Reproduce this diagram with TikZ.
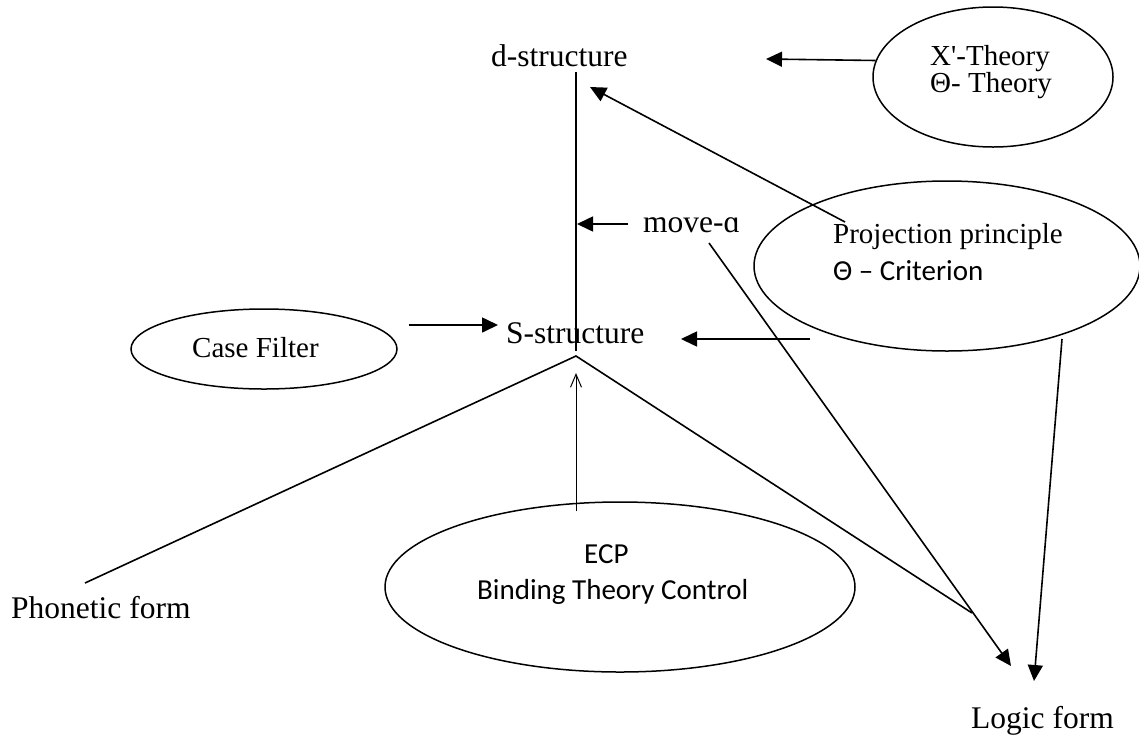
\documentclass[tikz,border=0pt]{standalone}
\usepackage{fontspec}
\setmainfont{Liberation Serif}
\newfontfamily\calib{Carlito}
\usetikzlibrary{shapes.geometric,arrows.meta}

\tikzset{
  label/.style={font=\fontsize{31.5}{34}\selectfont, inner sep=0pt, anchor=base west},
  inlabel/.style={font=\fontsize{29}{32}\selectfont, inner sep=0pt, anchor=base west},
  sanslabel/.style={font=\calib\fontsize{29}{32}\selectfont, inner sep=0pt, anchor=base west},
  oval/.style={draw, ellipse, line width=1.5pt, inner sep=0pt},
  link/.style={line width=1.6pt},
  arr/.style={line width=1.6pt, -{Triangle[length=16pt,width=15pt]}},
  thinarr/.style={line width=1pt, -{Straight Barb[length=13pt,width=11pt,line width=1pt]}}
}

\begin{document}
\begin{tikzpicture}[x=1pt,y=-1pt]
  \useasboundingbox (0,0) rectangle (1139,737);

  % levels of representation
  \node[label] (dstr) at (491,66) {d-structure};
  \node[label] (sstr) at (506,343) {S-structure};
  \node[label] (move) at (643,232) {move-ɑ};
  \node[label] (pf)   at (11,618)  {Phonetic form};
  \node[label] (lf)   at (971,728) {Logic form};

  % modules
  \node[oval, minimum width=240pt, minimum height=140pt] (xbar) at (993,77) {};
  \node[inlabel] (xbar1) at (930,65) {X\textquotesingle-Theory};
  \node[inlabel] (xbar2) at (930,92) {Θ- Theory};

  \node[oval, minimum width=386pt, minimum height=170pt] (proj) at (947,266) {};
  \node[inlabel] (proj1) at (833,243) {Projection principle};
  \node[sanslabel] (proj2) at (833,280) {Θ – Criterion};

  \node[oval, minimum width=266pt, minimum height=80pt] (case) at (264,349) {};
  \node[inlabel] (case1) at (192,357) {Case Filter};

  \node[oval, minimum width=470pt, minimum height=170pt] (ecp) at (620,587) {};
  \node[sanslabel] (ecp1) at (584,563) {ECP};
  \node[sanslabel] (ecp2) at (477,599) {Binding Theory Control};

  % free ends of the connectors
  \coordinate (dtop)    at (576,72);
  \coordinate (dbot)    at (576,351);
  \coordinate (xtip)    at (766,59);
  \coordinate (pdfrom)  at (845,222);
  \coordinate (pdtip)   at (590,87);
  \coordinate (mvfrom)  at (628,224);
  \coordinate (mvtip)   at (577,224);
  \coordinate (cfrom)   at (409,325);
  \coordinate (ctip)    at (498,325);
  \coordinate (psfrom)  at (810,339);
  \coordinate (pstip)   at (681,339);
  \coordinate (apex)    at (576,356);
  \coordinate (pfend)   at (85,583);
  \coordinate (lfmeet)  at (972,613);
  \coordinate (ecpfrom) at (576,511);
  \coordinate (ecptip)  at (576,373);
  \coordinate (mlfrom)  at (709,243);
  \coordinate (mltip)   at (1011,666);
  \coordinate (plfrom)  at (1062,339);
  \coordinate (pltip)   at (1034,681);

  % connectors
  \draw[link] (dtop) -- (dbot);
  \draw[arr] (xbar.172) -- (xtip);
  \draw[arr] (pdfrom) -- (pdtip);
  \draw[arr] (mvfrom) -- (mvtip);
  \draw[arr] (cfrom) -- (ctip);
  \draw[arr] (psfrom) -- (pstip);
  \draw[link] (pfend) -- (apex) -- (lfmeet);
  \draw[thinarr] (ecpfrom) -- (ecptip);
  \draw[arr] (mlfrom) -- (mltip);
  \draw[arr] (plfrom) -- (pltip);
\end{tikzpicture}
\end{document}
